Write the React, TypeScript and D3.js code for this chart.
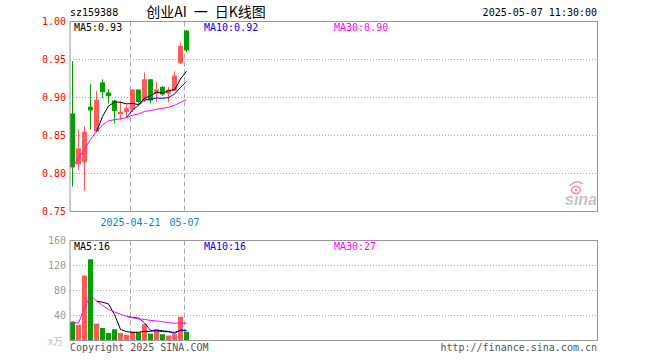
import React from "react";
import * as d3 from "d3";

const dates = ["04-07","04-08","04-09","04-10","04-11","04-14","04-15","04-16","04-17","04-18","04-21","04-22","04-23","04-24","04-25","04-28","04-29","04-30","05-06","05-07"];
const opens = [0.879,0.812,0.815,0.888,0.855,0.920,0.9066,0.896,0.878,0.881,0.884,0.9105,0.896,0.924,0.905,0.914,0.905,0.909,0.945,0.988];
const highs = [0.948,0.858,0.862,0.9175,0.909,0.924,0.9105,0.897,0.895,0.8895,0.9105,0.9105,0.933,0.924,0.921,0.915,0.9136,0.9346,0.9724,0.989];
const lows = [0.783,0.804,0.777,0.858,0.855,0.899,0.892,0.866,0.870,0.874,0.881,0.8917,0.894,0.8925,0.894,0.902,0.8934,0.909,0.944,0.9597];
const closes = [0.808,0.833,0.855,0.883,0.897,0.907,0.9017,0.882,0.881,0.886,0.9105,0.894,0.924,0.896,0.9105,0.904,0.9105,0.929,0.968,0.962];
const volumes = [30,25,104,130,27,20,12,18,12,9,14,13,26,11,18,10,8,10,38,14];

const priceTicks = [1.0,0.95,0.9,0.85,0.8,0.75];
const volTicks = [160,120,80,40];
const markedDates = [{ idx: 10, label: "2025-04-21" }, { idx: 19, label: "05-07" }];

const RED = "#ff5a5a";
const GREEN = "#00a000";
const MONO = "'DejaVu Sans Mono', 'Liberation Mono', monospace";

function ma(arr: number[], n: number, expanding: boolean) {
  return arr.map((_, i) => {
    if (i < n - 1 && !expanding) return null;
    const s = arr.slice(Math.max(0, i - n + 1), i + 1);
    return d3.mean(s) as number;
  });
}

export default function App() {
  const L = 70, R = 597.5;
  const x = d3.scaleLinear().domain([0, 88]).range([L, L + 528]);
  const yP = d3.scaleLinear().domain([0.75, 1.0]).range([211.5, 21.5]);
  const yV = d3.scaleLinear().domain([0, 160]).range([340.5, 240.5]);
  const cx = (i: number) => x(i) + 2.5;

  const pMA = [
    { n: 5, color: "#000", vals: ma(closes, 5, false) },
    { n: 10, color: "#0000ff", vals: ma(closes, 10, false) },
    { n: 30, color: "#ff00ff", vals: ma(closes, 30, true) },
  ];
  const vMA = [
    { n: 5, color: "#000", vals: ma(volumes, 5, false) },
    { n: 10, color: "#0000ff", vals: ma(volumes, 10, false) },
    { n: 30, color: "#ff00ff", vals: ma(volumes, 30, true) },
  ];
  const lineP = d3.line<number | null>().defined(d => d != null).x((_, i) => cx(i)).y(d => yP(d as number));
  const lineV = d3.line<number | null>().defined(d => d != null).x((_, i) => cx(i)).y(d => yV(d as number));
  const labelX = [74, 204, 334];
  const last = dates.length - 1;

  return (
    <svg width={660} height={360} style={{ position: "absolute", left: 0, top: 0, background: "#fff" }}>
      {/* header */}
      <text x={70} y={16} fontFamily={MONO} fontSize={10} fill="#000">sz159388</text>
      <text x={206} y={17} fontFamily="'Noto Sans CJK SC', sans-serif" fontSize={14} fill="#000" textAnchor="middle">{"创业AI\u2002一\u2002日K线图"}</text>
      <text x={597} y={16} fontFamily={MONO} fontSize={10} fill="#000" textAnchor="end">2025-05-07 11:30:00</text>

      {/* grid */}
      {priceTicks.slice(1, 5).map(t => (
        <line key={t} x1={L} x2={R} y1={yP(t)} y2={yP(t)} stroke="#aaa" strokeDasharray="1,2" />
      ))}
      {volTicks.slice(1).map(t => (
        <line key={t} x1={L} x2={R} y1={yV(t)} y2={yV(t)} stroke="#aaa" strokeDasharray="1,2" />
      ))}
      {markedDates.map(m => (
        <g key={m.idx}>
          <line x1={x(m.idx) + 0.5} x2={x(m.idx) + 0.5} y1={21.5} y2={211.5} stroke="#aaa" strokeDasharray="5,3" />
          <line x1={x(m.idx) + 0.5} x2={x(m.idx) + 0.5} y1={240.5} y2={340.5} stroke="#aaa" strokeDasharray="5,3" />
          <text x={x(m.idx) + 0.5} y={226} fontFamily={MONO} fontSize={10} fill="#0a7fd2" textAnchor="middle">{m.label}</text>
        </g>
      ))}

      {/* axis labels */}
      {priceTicks.map(t => (
        <text key={t} x={66} y={yP(t) + 3.5} fontFamily={MONO} fontSize={10} fill="#ff0000" textAnchor="end">{t.toFixed(2)}</text>
      ))}
      {volTicks.map(t => (
        <text key={t} x={66} y={yV(t) + 3.5} fontFamily={MONO} fontSize={10} fill="#999" textAnchor="end">{t}</text>
      ))}
      <text x={63} y={345} fontFamily="'Noto Sans CJK SC', sans-serif" fontSize={10} fill="#bbb" textAnchor="end">x万</text>

      {/* sina logo */}
      <g>
        <ellipse cx={576} cy={190} rx={4.5} ry={3.5} fill="none" stroke="#f08a8a" strokeWidth={1.5} />
        <circle cx={576} cy={190} r={1.2} fill="#f08a8a" />
        <path d="M570,186 Q576,179 583,184" fill="none" stroke="#f08a8a" strokeWidth={1.2} />
        <text x={597} y={205} fontFamily="'Liberation Sans', Arial, sans-serif" fontStyle="italic" fontWeight="bold" fontSize={16} fill="#c4c4c4" textAnchor="end">sina</text>
      </g>

      {/* candles */}
      {dates.map((d, i) => {
        const up = closes[i] >= opens[i];
        const c = up ? RED : GREEN;
        const top = yP(Math.max(opens[i], closes[i]));
        const bot = yP(Math.min(opens[i], closes[i]));
        return (
          <g key={d}>
            <line x1={cx(i)} x2={cx(i)} y1={yP(highs[i])} y2={yP(lows[i])} stroke={c} />
            <rect x={x(i)} y={top} width={5} height={Math.max(1, bot - top)} fill={c} />
          </g>
        );
      })}
      {pMA.map(m => (
        <path key={m.n} d={lineP(m.vals) || ""} fill="none" stroke={m.color} strokeWidth={1} />
      ))}

      {/* volume bars */}
      {dates.map((d, i) => {
        const up = closes[i] >= opens[i];
        return <rect key={d} x={x(i)} y={yV(volumes[i])} width={5} height={yV(0) - yV(volumes[i])} fill={up ? RED : GREEN} />;
      })}
      {vMA.map(m => (
        <path key={m.n} d={lineV(m.vals) || ""} fill="none" stroke={m.color} strokeWidth={1} />
      ))}

      {/* frames */}
      <rect x={L} y={21.5} width={R - L} height={190} fill="none" stroke="#999" />
      <rect x={L} y={240.5} width={R - L} height={100} fill="none" stroke="#999" />

      {/* MA labels */}
      {pMA.map((m, k) => (
        <text key={m.n} x={labelX[k]} y={31} fontFamily={MONO} fontSize={10} fill={m.color}>{`MA${m.n}:${(m.vals[last] as number).toFixed(2)}`}</text>
      ))}
      {vMA.map((m, k) => (
        <text key={m.n} x={labelX[k]} y={250} fontFamily={MONO} fontSize={10} fill={m.color}>{`MA${m.n}:${Math.round(m.vals[last] as number)}`}</text>
      ))}

      {/* footer */}
      <text x={70} y={351} fontFamily={MONO} fontSize={10} fill="#555">Copyright 2025 SINA.COM</text>
      <text x={597} y={351} fontFamily={MONO} fontSize={10} fill="#555" textAnchor="end">http://finance.sina.com.cn</text>
    </svg>
  );
}
